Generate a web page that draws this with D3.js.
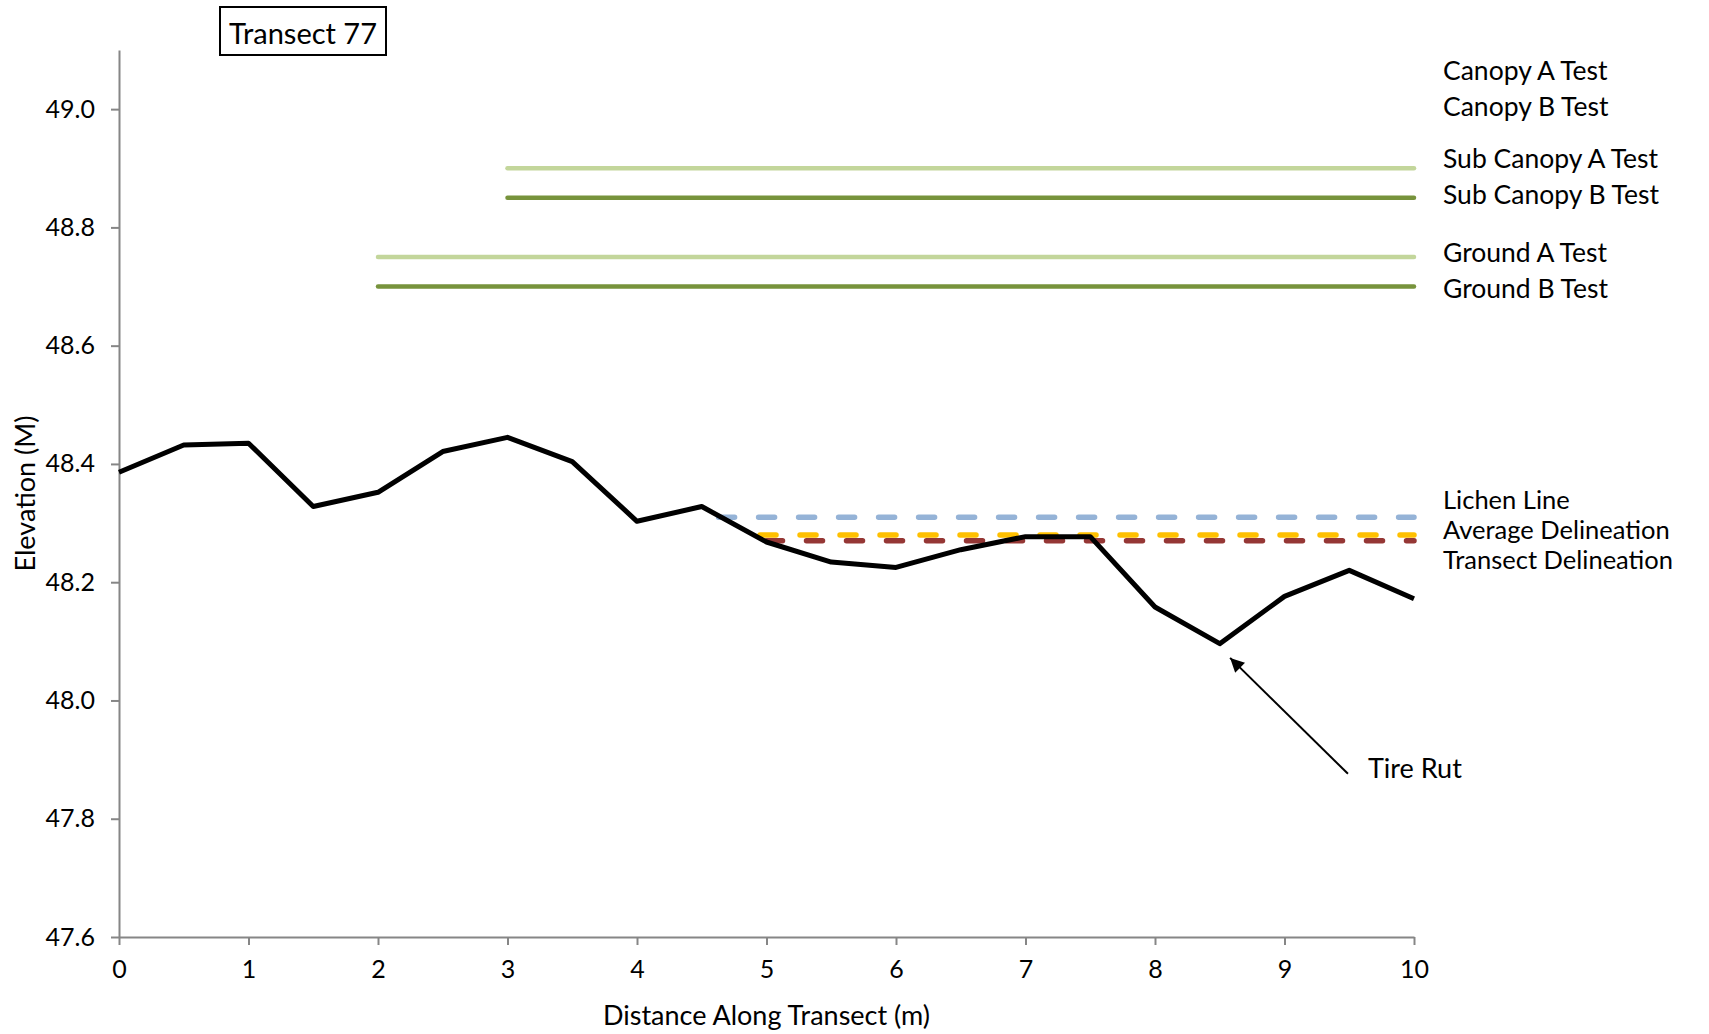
<!DOCTYPE html>
<html>
<head>
<meta charset="utf-8">
<script src="https://cdn.jsdelivr.net/npm/d3@7"></script>
<style>
  body { margin: 0; background: #fff; }
  text { font-family: Lato, "Open Sans", sans-serif; fill: #000; }
</style>
</head>
<body>
<div id="chart"></div>
<script>
// ground profile along the transect
const distance = [0, 0.5, 1, 1.5, 2, 2.5, 3, 3.5, 4, 4.5, 5, 5.5, 6, 6.5, 7, 7.5, 8, 8.5, 9, 9.5, 10];
const elevation = [48.386, 48.432, 48.435, 48.328, 48.352, 48.421, 48.445, 48.404, 48.303, 48.328,
                   48.268, 48.234, 48.225, 48.255, 48.277, 48.277, 48.158, 48.096, 48.176, 48.220, 48.172];

// horizontal reference lines
const refNames = ["Sub Canopy A Test", "Sub Canopy B Test", "Ground A Test", "Ground B Test",
                  "Lichen Line", "Average Delineation", "Transect Delineation"];
const refStart = [3, 3, 2, 2, 4.63, 4.95, 5];
const refEnd = [10, 10, 10, 10, 10, 10, 10];
const refValue = [48.9, 48.85, 48.75, 48.7, 48.31, 48.28, 48.27];

// labels on the right (canopy tests have no visible line)
const labelNames = ["Canopy A Test", "Canopy B Test", "Sub Canopy A Test", "Sub Canopy B Test",
                    "Ground A Test", "Ground B Test", "Lichen Line", "Average Delineation", "Transect Delineation"];
const labelValues = [49.066, 49.005, 48.917, 48.856, 48.758, 48.697, 48.340, 48.290, 48.240];

const xTicks = [0, 1, 2, 3, 4, 5, 6, 7, 8, 9, 10];
const yTicks = [47.6, 47.8, 48.0, 48.2, 48.4, 48.6, 48.8, 49.0];

// tire rut annotation: arrow tip and tail in data units
const rutTip = [8.58, 48.072];
const rutTail = [9.49, 47.876];

const lineStyle = [
  {color: "#c3d69b", dash: null},
  {color: "#77933c", dash: null},
  {color: "#c3d69b", dash: null},
  {color: "#77933c", dash: null},
  {color: "#95b3d7", dash: "16,24"},
  {color: "#ffc000", dash: "16,24"},
  {color: "#953735", dash: "16,24"}
];

var W = 1709, H = 1034;
var margin = {top: 50, right: 295, bottom: 97, left: 119};

var svg = d3.select("#chart").append("svg")
  .attr("width", W).attr("height", H);

var x = d3.scaleLinear().domain([0, 10]).range([margin.left, W - margin.right]);
var y = d3.scaleLinear().domain([47.6, 49.1]).range([H - margin.bottom, margin.top]);

// axes
var gx = svg.append("g")
  .attr("transform", "translate(0," + y(47.6) + ")")
  .call(d3.axisBottom(x).tickValues(xTicks).tickSize(8).tickSizeOuter(0).tickPadding(15).tickFormat(d3.format("d")));
var gy = svg.append("g")
  .attr("transform", "translate(" + x(0) + ",0)")
  .call(d3.axisLeft(y).tickValues(yTicks).tickSize(8).tickSizeOuter(0).tickPadding(16).tickFormat(d3.format(".1f")));

[gx, gy].forEach(function(g) {
  g.selectAll("path, line").attr("stroke", "#868686").attr("stroke-width", 2);
  g.selectAll("text").style("font-size", "25px").style("font-family", "Lato, sans-serif").attr("fill", "#000");
});

// reference lines
svg.append("g")
  .selectAll("line")
  .data(refNames)
  .enter()
  .append("line")
    .attr("x1", function(d, i) { return x(refStart[i]); })
    .attr("x2", function(d, i) { return x(refEnd[i]); })
    .attr("y1", function(d, i) { return y(refValue[i]); })
    .attr("y2", function(d, i) { return y(refValue[i]); })
    .attr("stroke", function(d, i) { return lineStyle[i].color; })
    .attr("stroke-width", function(d, i) { return lineStyle[i].dash ? 5.5 : 4.5; })
    .attr("stroke-dasharray", function(d, i) { return lineStyle[i].dash; })
    .attr("stroke-linecap", "round");

// elevation profile
svg.append("path")
  .datum(distance)
  .attr("fill", "none")
  .attr("stroke", "#000")
  .attr("stroke-width", 5)
  .attr("stroke-linejoin", "round")
  .attr("d", d3.line()
    .x(function(d) { return x(d); })
    .y(function(d, i) { return y(elevation[i]); }));

// right labels
svg.append("g")
  .selectAll("text")
  .data(labelNames)
  .enter()
  .append("text")
    .attr("x", x(10) + 29)
    .attr("y", function(d, i) { return y(labelValues[i]); })
    .attr("dominant-baseline", "central")
    .style("font-size", function(d, i) { return i >= 6 ? "25.5px" : "26.5px"; })
    .text(function(d) { return d; });

// arrow
svg.append("defs").append("marker")
  .attr("id", "head")
  .attr("viewBox", "0 0 10 10")
  .attr("refX", 10).attr("refY", 5)
  .attr("markerWidth", 16).attr("markerHeight", 14)
  .attr("markerUnits", "userSpaceOnUse")
  .attr("orient", "auto")
  .append("path").attr("d", "M0,0 L10,5 L0,10 Z").attr("fill", "#000");

svg.append("line")
  .attr("x1", x(rutTail[0])).attr("y1", y(rutTail[1]))
  .attr("x2", x(rutTip[0])).attr("y2", y(rutTip[1]))
  .attr("stroke", "#000").attr("stroke-width", 2)
  .attr("marker-end", "url(#head)");

svg.append("text")
  .attr("x", x(rutTail[0]) + 20)
  .attr("y", y(rutTail[1]) - 6)
  .attr("dominant-baseline", "central")
  .style("font-size", "27px")
  .text("Tire Rut");

// axis titles
svg.append("text")
  .attr("x", (x(0) + x(10)) / 2)
  .attr("y", 1014)
  .attr("text-anchor", "middle")
  .attr("dominant-baseline", "central")
  .style("font-size", "27px")
  .text("Distance Along Transect (m)");

svg.append("text")
  .attr("transform", "translate(24," + ((y(47.6) + y(49.1)) / 2) + ") rotate(-90)")
  .attr("text-anchor", "middle")
  .attr("dominant-baseline", "central")
  .style("font-size", "27px")
  .text("Elevation (M)");

// title box
var title = svg.append("g").attr("transform", "translate(220,7)");
title.append("rect")
  .attr("width", 166).attr("height", 48)
  .attr("fill", "#fff").attr("stroke", "#000").attr("stroke-width", 2);
title.append("text")
  .attr("x", 83).attr("y", 25)
  .attr("text-anchor", "middle")
  .attr("dominant-baseline", "central")
  .style("font-size", "29px")
  .text("Transect 77");
</script>
</body>
</html>
